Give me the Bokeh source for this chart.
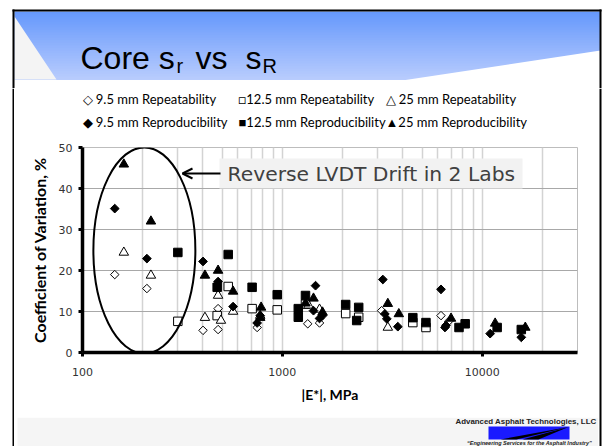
from bokeh.plotting import figure
from bokeh.layouts import column, row
from bokeh.models import (Range1d, FixedTicker, Label, BoxAnnotation, Arrow, OpenHead,
                          PrintfTickFormatter)
from bokeh.core.properties import value
from bokeh.embed import file_html
from bokeh.resources import INLINE

# ---------------- data ----------------
rep95_x = [145, 210, 401, 477, 477, 748, 1340, 1535, 3140, 6223, 6800]
rep95_y = [19.0, 15.6, 5.4, 10.7, 5.6, 6.1, 7.0, 7.2, 10.2, 9.0, 7.6]

repro95_x = [145, 210, 401, 477, 567, 748, 775, 1466, 1432, 1535, 1589, 3184, 3258, 3334,
             3784, 6223, 6516, 6592, 10965, 15700]
repro95_y = [35.1, 22.9, 22.2, 17.3, 11.2, 7.2, 9.0, 16.3, 10.2, 8.3, 9.0, 17.8, 9.4, 8.2,
             6.3, 15.4, 6.1, 6.6, 4.6, 3.7]

rep125_x = [300, 472, 536, 706, 943, 1306, 2075, 2411, 4498, 5233]
rep125_y = [7.6, 9.0, 16.1, 10.7, 10.4, 11.8, 9.5, 8.6, 7.3, 6.1]

repro125_x = [300, 472, 536, 706, 943, 1202, 1202, 1306, 2075, 2411, 2356, 4498, 5233,
              7659, 8222, 11885, 15700]
repro125_y = [24.4, 15.9, 23.9, 15.9, 14.1, 10.7, 8.6, 13.9, 11.7, 11.0, 7.8, 8.5, 7.3,
              6.1, 7.0, 6.1, 5.6]

rep25_x = [161, 220, 410, 477, 493, 567, 775, 1352, 1535, 3373]
rep25_y = [24.4, 18.8, 8.5, 13.9, 7.8, 10.0, 9.0, 11.5, 10.5, 6.1]

repro25_x = [161, 220, 410, 477, 567, 783, 775, 1306, 1432, 1589, 3373, 3828, 6985, 11614, 16440]
repro25_y = [45.9, 32.0, 18.8, 20.0, 14.9, 11.0, 8.5, 12.0, 13.2, 9.8, 11.9, 9.4, 8.3, 7.1, 6.1]

x_major_ticks = [100, 1000, 10000]
x_minor_ticks = [200, 300, 400, 500, 600, 700, 800, 900,
                 2000, 3000, 4000, 5000, 6000, 7000, 8000, 9000, 20000, 30000]
y_ticks = [0, 10, 20, 30, 40, 50]

legend_row1 = ["◇ 9.5 mm Repeatability", "□12.5 mm Repeatability", "△ 25 mm Repeatability"]
legend_row2 = ["◆ 9.5 mm Reproducibility", "■12.5 mm Reproducibility", "▲25 mm Reproducibility"]

title_main = ["Core s", "vs", "s"]
title_subs = ["r", "R"]
note_text = "Reverse LVDT Drift in 2 Labs"
x_title = "|E*|, MPa"
y_title = "Coefficient of Variation, %"
logo_text = "Advanced Asphalt Technologies, LLC"
logo_tag = "\u201cEngineering Services for the Asphalt Industry\u201d"

ellipse_center = (204, 24.9)

W, H = 602, 446
COMMON = dict(output_backend="svg", toolbar_location=None,
              background_fill_color="white", border_fill_color="white")


def deco(x0, x1, y0, y1):
    """A figure used only for slide decoration, in page-pixel coordinates."""
    f = figure(width=x1 - x0, height=y1 - y0, x_range=Range1d(x0, x1), y_range=Range1d(y1, y0),
               min_border=0, x_axis_location=None, y_axis_location=None, **COMMON)
    f.grid.visible = False
    f.outline_line_color = None
    return f


# ---------------- header ----------------
hdr = deco(0, W, 0, 88)
grad_top = (102, 152, 252)
grad_bot = (184, 204, 253)
h_top, h_bot = 11, 79
n = h_bot - h_top
g_top, g_bot, g_col = [], [], []
for i in range(n):
    t = i / (n - 1)
    c = tuple(int(round(grad_top[k] + (grad_bot[k] - grad_top[k]) * t)) for k in range(3))
    g_top.append(h_top + i)
    g_bot.append(h_top + i + 1.6)
    g_col.append("#%02x%02x%02x" % c)
hdr.quad(left=14, right=600, top=g_top, bottom=g_bot, fill_color=g_col, line_color=None)
hdr.patch([14, 56, 14], [16, h_bot, h_bot], fill_color="#f4f4f4", line_color=None)
hdr.patch([405, 600, 600], [h_bot + 0.5, 50, h_bot + 0.5], fill_color="white", line_color=None)
hdr.quad(left=12, right=601, top=9, bottom=11, fill_color="black", line_color=None)
hdr.quad(left=12, right=14, top=9, bottom=88, fill_color="black", line_color=None)
hdr.quad(left=599, right=601, top=9, bottom=88, fill_color="black", line_color=None)
hdr.text(x=[80, 195, 245], y=[57, 57, 57], text=title_main, text_font=value("Liberation Sans"),
         text_font_size="32px", text_color="black", text_baseline="alphabetic")
hdr.text(x=[176, 262], y=[65, 65], text=title_subs, text_font=value("Liberation Sans"),
         text_font_size="20px", text_color="black", text_baseline="alphabetic")

# ---------------- side strips ----------------
lstrip = deco(0, 14, 88, H)
lstrip.quad(left=12, right=14, top=88, bottom=H, fill_color="black", line_color=None)
rstrip = deco(598, W, 88, H)
rstrip.quad(left=599, right=601, top=88, bottom=H, fill_color="black", line_color=None)

# ---------------- legend strip (text with symbol glyphs, as in the reference) ----------------
leg = deco(14, 598, 88, 140)
leg_x = [82, 238, 385]
leg.text(x=leg_x + leg_x, y=[98] * 3 + [121] * 3, text=legend_row1 + legend_row2,
         text_font=value("Lato"), text_font_size="13px", text_color="black",
         text_baseline="middle")

# ---------------- main chart ----------------
p = figure(width=584, height=277, x_axis_type="log",
           x_range=Range1d(100, 30000), y_range=Range1d(0, 50),
           min_border_left=68, min_border_right=21, min_border_top=7, min_border_bottom=65,
           **COMMON)
p.outline_line_color = "#bdbdbd"
p.outline_line_width = 1

p.xaxis.ticker = FixedTicker(ticks=x_major_ticks, minor_ticks=x_minor_ticks)
p.xaxis.formatter = PrintfTickFormatter(format="%d")
p.yaxis.ticker = FixedTicker(ticks=y_ticks)
for ax in (p.xaxis, p.yaxis):
    ax.axis_line_color = "black"
    ax.axis_line_width = 3.5
    ax.major_tick_line_color = "black"
    ax.major_tick_line_width = 3
    ax.major_tick_out = 4
    ax.major_tick_in = 0
    ax.minor_tick_line_color = None
    ax.major_label_text_font = "DejaVu Sans"
    ax.major_label_text_font_size = "11px"
    ax.major_label_text_color = "#333333"
    ax.axis_label_text_font = "Lato"
    ax.axis_label_text_font_style = "bold"
    ax.axis_label_text_color = "black"
    ax.axis_label_standoff = 7
p.xaxis.axis_label_text_font_size = "14px"
p.yaxis.axis_label_text_font_size = "16px"
p.xaxis.major_label_standoff = 11
p.yaxis.major_label_standoff = 6
p.xaxis.axis_label = x_title
p.yaxis.axis_label = y_title

p.xgrid.ticker = p.xaxis[0].ticker
p.xgrid.grid_line_color = "#d3d3d3"
p.xgrid.grid_line_width = 1.5
p.xgrid.minor_grid_line_color = "#d3d3d3"
p.xgrid.minor_grid_line_width = 1.5
p.ygrid.grid_line_color = "#a8a8a8"
p.ygrid.grid_line_width = 1.2

open_kw = dict(fill_color="white", line_color="black", line_width=1)
solid_kw = dict(fill_color="black", line_color="black", line_width=1)
p.scatter(rep95_x, rep95_y, marker="square", angle=0.785398, size=6, **open_kw)
p.scatter(rep125_x, rep125_y, marker="square", size=8.5, **open_kw)
p.scatter(rep25_x, rep25_y, marker="triangle", size=9.5, **open_kw)
p.scatter(repro95_x, repro95_y, marker="square", angle=0.785398, size=6.2, **solid_kw)
p.scatter(repro125_x, repro125_y, marker="square", size=8.5, **solid_kw)
p.scatter(repro25_x, repro25_y, marker="triangle", size=9.5, **solid_kw)

p.ellipse(x=[ellipse_center[0]], y=[ellipse_center[1]], width=102, height=206,
          width_units="screen", height_units="screen",
          fill_color=None, line_color="black", line_width=2)

# note box + arrow (screen units relative to the frame's bottom-left: page x-82, 352-page y)
FX0, FY0 = 82, 352
p.add_layout(BoxAnnotation(left=219 - FX0, right=522 - FX0, top=FY0 - 158, bottom=FY0 - 188,
                           left_units="screen", right_units="screen",
                           top_units="screen", bottom_units="screen",
                           fill_color="#f2f2f2", fill_alpha=1, line_color=None))
p.add_layout(Label(x=227 - FX0, y=FY0 - 173, x_units="screen", y_units="screen", text=note_text,
                   text_font="DejaVu Sans", text_font_size="20.3px", text_color="#404040",
                   text_baseline="middle", text_align="left"))
p.add_layout(Arrow(end=OpenHead(size=10, line_width=2, line_color="black"),
                   x_start=220 - FX0, y_start=FY0 - 173, x_end=182 - FX0, y_end=FY0 - 173,
                   start_units="screen", end_units="screen",
                   line_color="black", line_width=2))

# ---------------- bottom band with logo ----------------
bot = deco(14, 598, 417, H)
bot.quad(left=17, right=598, top=417, bottom=H, fill_color="#f5f5f5", line_color=None)
bot.text(x=[596], y=[420.5], text=[logo_text], text_font=value("Liberation Sans"),
         text_font_style="bold", text_font_size="7.9px", text_color="#222222",
         text_baseline="middle", text_align="right")
bot.quad(left=488, right=569, top=426, bottom=439, fill_color="#1a1aff", line_color=None)
bot.patches([[500, 568, 516], [522, 568, 538]], [[439, 426.5, 439], [439, 426.5, 439]],
            fill_color="black", line_color=None)
bot.text(x=[529], y=[442.5], text=[logo_tag], text_font=value("Liberation Sans"),
         text_font_style="bold italic", text_font_size="5.5px", text_color="#222222",
         text_baseline="middle", text_align="center")

# wrap the chart alone so that its borders are not shared with the decoration strips
layout = column(hdr, row(lstrip, column(leg, column(p), bot), rstrip))
open("out.html", "w").write(file_html(layout, INLINE))
